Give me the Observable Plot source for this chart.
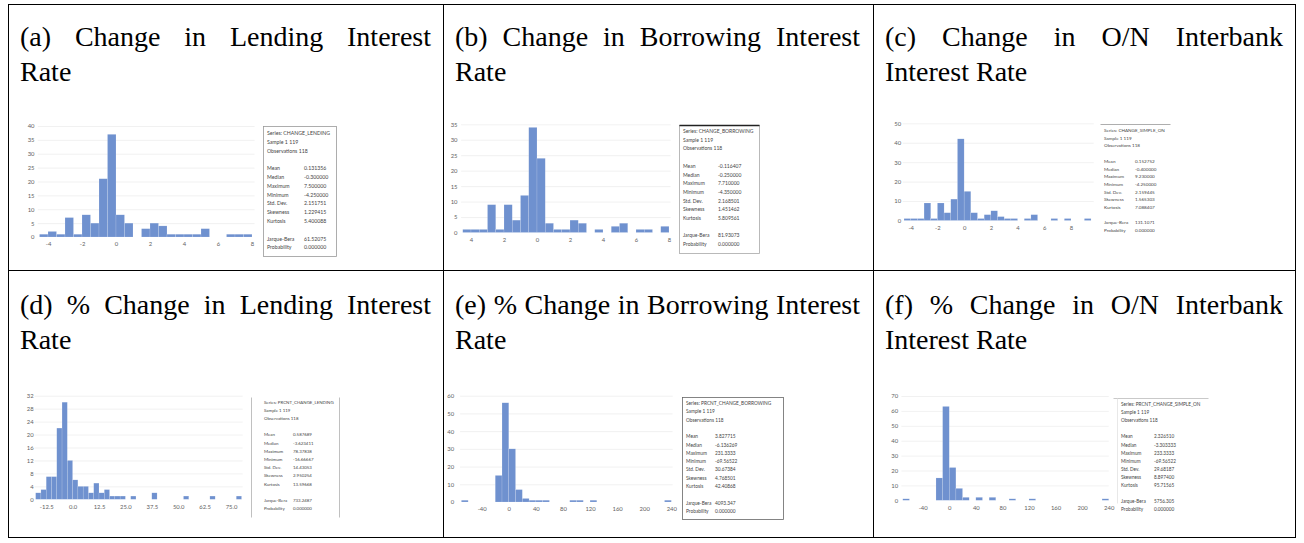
<!DOCTYPE html>
<html><head><meta charset="utf-8">
<script src="https://cdn.jsdelivr.net/npm/d3@7"></script>
<script src="https://cdn.jsdelivr.net/npm/@observablehq/plot@0.6"></script>
<style>
html,body{margin:0;padding:0;background:#fff;}
#page{position:relative;width:1304px;height:543px;overflow:hidden;background:#fff;}
.title{position:absolute;font-family:"Liberation Serif","Times New Roman",serif;font-size:28px;line-height:35px;color:#000;white-space:nowrap;}
.plot{position:absolute;}
</style></head><body><div id="page"></div>
<script>
// ---------- titles ----------
const titlesLine1 = ["(a) Change in Lending Interest", "(b) Change in Borrowing Interest", "(c) Change in O/N Interbank",
  "(d) % Change in Lending Interest", "(e) % Change in Borrowing Interest", "(f) % Change in O/N Interbank"];
const titlesLine2 = ["Rate", "Rate", "Interest Rate", "Rate", "Rate", "Interest Rate"];

// ---------- histogram data (bin starts and counts) ----------
const aStarts = [-4.5,-4,-3.5,-3,-2.5,-2,-1.5,-1,-0.5,0,0.5,1.5,2,2.5,3,3.5,4,4.5,5,6.5,7,7.5];
const aCounts = [1,2,1,7,1,8,5,21,37,8,5,3,5,4,1,1,1,1,3,1,1,1];
const bStarts = [-4.5,-4,-3.5,-3,-2.5,-2,-1.5,-1,-0.5,0,0.5,1,1.5,2,2.5,3.5,4.5,5,6,6.5,7.5];
const bCounts = [1,1,1,9,1,9,4,12,34,24,3,1,1,4,3,1,2,3,1,1,2];
const cStarts = [-4.5,-4,-3.5,-3,-2.5,-2,-1.5,-1,-0.5,0,0.5,1,1.5,2,2.5,3,3.5,4.5,5,6.5,7.5,9];
const cCounts = [1,1,1,9,1,9,4,11,42,15,4,1,3,5,2,1,1,1,3,1,1,1];
const dStarts = [-17.5,-15,-12.5,-10,-7.5,-5,-2.5,0,2.5,5,7.5,10,12.5,15,17.5,20,22.5,27.5,37.5,52.5,65,77.5];
const dCounts = [2,3,7,7,22,30,12,6,4,4,2,5,2,3,1,1,1,1,2,1,1,1];
const eStarts = [-70,-20,-10,0,10,20,30,40,50,90,100,120,230];
const eCounts = [1,15,56,30,7,2,1,1,1,1,1,1,1];
const fStarts = [-70,-20,-10,0,10,20,40,60,90,120,230];
const fCounts = [1,15,63,22,8,2,2,2,1,1,1];
const binWidths = [0.5, 0.5, 0.5, 2.5, 10, 10];

// ---------- tick values / labels ----------
const xTicksSmall = [-4,-2,0,2,4,6,8];
const aXLabels = ["-4","-2","0","2","4","6","8"];
const bXLabels = ["4","2","0","2","4","6","8"];
const cXLabels = ["-4","-2","0","2","4","6","8"];
const dXTicks = [-12.5,0,12.5,25,37.5,50,62.5,75];
const dXLabels = ["-12.5","0.0","12.5","25.0","37.5","50.0","62.5","75.0"];
const eXTicks = [-40,0,40,80,120,160,200,240];
const eXLabels = ["-40","0","40","80","120","160","200","240"];
const aYTicks = [0,5,10,15,20,25,30,35,40];
const bYTicks = [0,5,10,15,20,25,30,35];
const cYTicks = [0,10,20,30,40,50];
const dYTicks = [0,4,8,12,16,20,24,28,32];
const eYTicks = [0,10,20,30,40,50,60];
const fYTicks = [0,10,20,30,40,50,60,70];

// ---------- descriptive statistics ----------
const seriesNames = ["CHANGE_LENDING","CHANGE_BORROWING","CHANGE_SIMPLE_ON","PRCNT_CHANGE_LENDING","PRCNT_CHANGE_BORROWING","PRCNT_CHANGE_SIMPLE_ON"];
const sampleText = "Sample 1 119";
const observations = [118,118,118,118,118,118];
const statNames = ["Mean","Median","Maximum","Minimum","Std. Dev.","Skewness","Kurtosis"];
const testNames = ["Jarque-Bera","Probability"];
const aStats = ["0.131356","-0.300000","7.500000","-4.250000","2.151751","1.229415","5.400088"];
const bStats = ["-0.116407","-0.250000","7.710000","-4.350000","2.168501","1.451462","5.809561"];
const cStats = ["0.152752","-0.400000","9.230000","-4.250000","2.159445","1.565303","7.088407"];
const dStats = ["0.587689","-3.623411","78.37838","-16.66667","14.43053","2.950254","13.59668"];
const eStats = ["3.827715","-6.136269","231.3333","-69.56522","30.67384","4.768501","42.40868"];
const fStats = ["2.326510","-3.303333","233.3333","-69.56522","29.68187","8.897400","95.71565"];
const aTests = ["61.52075","0.000000"];
const bTests = ["81.93073","0.000000"];
const cTests = ["131.1071","0.000000"];
const dTests = ["733.2487","0.000000"];
const eTests = ["4093.347","0.000000"];
const fTests = ["5756.305","0.000000"];

// ---------- layout ----------
const page = document.getElementById("page");
const colLeft = [20, 455, 885], colWidth = [411, 405, 398];
const rowBaseline = [46, 314];

function addTitle(text, left, baseline, width, justify) {
  const d = document.createElement("div");
  d.className = "title";
  d.style.left = left + "px";
  d.style.top = (baseline - 27) + "px";
  const s = document.createElement("span");
  s.textContent = text;
  d.appendChild(s);
  page.appendChild(d);
  if (justify) {
    const nat = s.getBoundingClientRect().width;
    const spaces = (text.match(/ /g) || []).length;
    s.style.wordSpacing = ((width - nat) / spaces) + "px";
  }
}
titlesLine1.forEach((t, i) => {
  const c = i % 3, r = Math.floor(i / 3);
  addTitle(t, colLeft[c], rowBaseline[r], colWidth[c], true);
  addTitle(titlesLine2[i], colLeft[c], rowBaseline[r] + 35, colWidth[c], false);
});

const panels = [
  {starts:aStarts, counts:aCounts, xTicks:xTicksSmall, xLabels:aXLabels, yTicks:aYTicks,
   left:14, top:116, w:250, h:140, xDom:[-4,8], xPx:[48,252], yDom:[0,40], yPx:[237,126], yPad:14, xPad:4, grid:[-4.6,8.15]},
  {starts:bStarts, counts:bCounts, xTicks:xTicksSmall, xLabels:bXLabels, yTicks:bYTicks,
   left:446, top:116, w:235, h:135, xDom:[-4,8], xPx:[471,669], yDom:[0,35], yPx:[232.5,124.3], yPad:14, xPad:4.4, grid:[-4.6,8.1]},
  {starts:cStarts, counts:cCounts, xTicks:xTicksSmall, xLabels:cXLabels, yTicks:cYTicks,
   left:880, top:114, w:225, h:125, xDom:[-4,8], xPx:[910.7,1071], yDom:[0,50], yPx:[220.5,123.3], yPad:10, xPad:4.7, grid:[-4.6,9.7]},
  {starts:dStarts, counts:dCounts, xTicks:dXTicks, xLabels:dXLabels, yTicks:dYTicks,
   left:14, top:388, w:232, h:130, xDom:[-12.5,75], xPx:[46.2,231], yDom:[0,32], yPx:[499.3,395.7], yPad:13, xPad:5.3, grid:[-18,80.5]},
  {starts:eStarts, counts:eCounts, xTicks:eXTicks, xLabels:eXLabels, yTicks:eYTicks,
   left:446, top:388, w:232, h:130, xDom:[-40,240], xPx:[481.7,671.3], yDom:[0,60], yPx:[502,395.7], yPad:28, xPad:4.2, grid:[-72,242]},
  {starts:fStarts, counts:fCounts, xTicks:eXTicks, xLabels:eXLabels, yTicks:fYTicks,
   left:880, top:388, w:235, h:130, xDom:[-40,240], xPx:[922.7,1108.7], yDom:[0,70], yPx:[500.3,396], yPad:25, xPad:5, grid:[-72,240]}
];

panels.forEach((p, i) => {
  const bw = binWidths[i];
  const data = p.starts.map((s, k) => ({x1: s, x2: s + bw, n: p.counts[k]}));
  const lab = new Map(p.xTicks.map((t, k) => [t, p.xLabels[k]]));
  const chart = Plot.plot({
    width: p.w, height: p.h,
    marginLeft: p.xPx[0] - p.left, marginRight: p.left + p.w - p.xPx[1],
    marginTop: p.yPx[1] - p.top, marginBottom: p.top + p.h - p.yPx[0],
    x: {domain: p.xDom},
    y: {domain: p.yDom},
    style: {fontFamily: "Lato, 'Open Sans', sans-serif", color: "#5f5f5f", background: "none", overflow: "visible"},
    marks: [
      Plot.ruleY(p.yTicks.slice(1), {x1: p.grid[0], x2: p.grid[1], stroke: "#e8e8e8", strokeWidth: 0.6}),
      Plot.rectY(data, {x1: "x1", x2: "x2", y: "n", fill: "#6f91cf", stroke: "#ffffff", strokeOpacity: 0.35, strokeWidth: 0.4}),
      Plot.axisY(p.yTicks, {tickSize: 0, tickPadding: p.yPad, fontSize: 5.9, label: null}),
      Plot.axisX(p.xTicks, {tickSize: 0, tickPadding: p.xPad, fontSize: 5.9, label: null, tickFormat: d => lab.get(d) ?? ""})
    ]
  });
  chart.classList.add("plot");
  chart.style.left = p.left + "px";
  chart.style.top = p.top + "px";
  page.appendChild(chart);
});

// ---------- overlay: table borders and statistics boxes ----------
const svg = d3.select(page).append("svg")
  .attr("width", 1304).attr("height", 543)
  .style("position", "absolute").style("left", 0).style("top", 0);

const T = svg.append("g").attr("stroke", "#000").attr("stroke-width", 1).attr("shape-rendering", "crispEdges");
T.append("rect").attr("x", 8.5).attr("y", 4.5).attr("width", 1287).attr("height", 533).attr("fill", "none");
T.append("line").attr("x1", 443.5).attr("x2", 443.5).attr("y1", 4.5).attr("y2", 537.5);
T.append("line").attr("x1", 873.5).attr("x2", 873.5).attr("y1", 4.5).attr("y2", 537.5);
T.append("line").attr("x1", 8.5).attr("x2", 1295.5).attr("y1", 270.5).attr("y2", 270.5);

const boxes = [
  {lx:267, vx:304, y0:133, step:8.8, fs:5.2, stats:aStats, tests:aTests,
   shapes:[{t:"rect", x:263, y:126, w:73, h:130, stroke:"#9a9a9a"}]},
  {lx:683, vx:718, y0:131, step:8.7, fs:5.0, stats:bStats, tests:bTests,
   shapes:[{t:"rect", x:679, y:125, w:80, h:128, stroke:"#a8a8a8"}, {t:"line", x1:679, y1:125, x2:759, y2:125, stroke:"#222", sw:1.5}]},
  {lx:1104, vx:1135, y0:130, step:7.7, fs:4.6, stats:cStats, tests:cTests,
   shapes:[{t:"line", x1:1100, y1:124, x2:1170, y2:124, stroke:"#999"}]},
  {lx:264, vx:293, y0:402, step:8.2, fs:4.4, stats:dStats, tests:dTests,
   shapes:[{t:"line", x1:251, y1:397, x2:251, y2:517, stroke:"#b0b0b0"}, {t:"line", x1:339, y1:397, x2:339, y2:517, stroke:"#b0b0b0"}]},
  {lx:686, vx:715, y0:403, step:8.3, fs:4.8, stats:eStats, tests:eTests,
   shapes:[{t:"rect", x:682, y:397, w:101, h:122, stroke:"#666"}]},
  {lx:1121, vx:1154, y0:404, step:8.1, fs:4.7, stats:fStats, tests:fTests,
   shapes:[{t:"line", x1:1113, y1:398, x2:1208, y2:398, stroke:"#bbb"}, {t:"line", x1:1117, y1:398, x2:1117, y2:503, stroke:"#e2e2e2"}]}
];

boxes.forEach((b, i) => {
  const g = svg.append("g");
  b.shapes.forEach(s => {
    if (s.t === "rect") g.append("rect").attr("x", s.x + 0.5).attr("y", s.y + 0.5).attr("width", s.w).attr("height", s.h)
      .attr("fill", "#fff").attr("stroke", s.stroke).attr("stroke-width", s.sw || 0.8);
    else g.append("line").attr("x1", s.x1 + 0.5).attr("y1", s.y1 + 0.5).attr("x2", s.x2 + 0.5).attr("y2", s.y2 + 0.5)
      .attr("stroke", s.stroke).attr("stroke-width", s.sw || 0.8);
  });
  const tg = g.append("g").attr("font-family", "Lato, 'Open Sans', sans-serif").attr("font-size", b.fs)
    .attr("fill", "#444").attr("dominant-baseline", "central");
  const yAt = k => b.y0 + k * b.step;
  tg.append("text").attr("x", b.lx).attr("y", yAt(0)).text("Series: " + seriesNames[i]);
  tg.append("text").attr("x", b.lx).attr("y", yAt(1)).text(sampleText);
  tg.append("text").attr("x", b.lx).attr("y", yAt(2)).text("Observations " + observations[i]);
  statNames.forEach((n, k) => {
    tg.append("text").attr("x", b.lx).attr("y", yAt(4 + k)).text(n);
    tg.append("text").attr("x", b.vx).attr("y", yAt(4 + k)).text(b.stats[k]);
  });
  testNames.forEach((n, k) => {
    tg.append("text").attr("x", b.lx).attr("y", yAt(12 + k)).text(n);
    tg.append("text").attr("x", b.vx).attr("y", yAt(12 + k)).text(b.tests[k]);
  });
});
</script></body></html>
